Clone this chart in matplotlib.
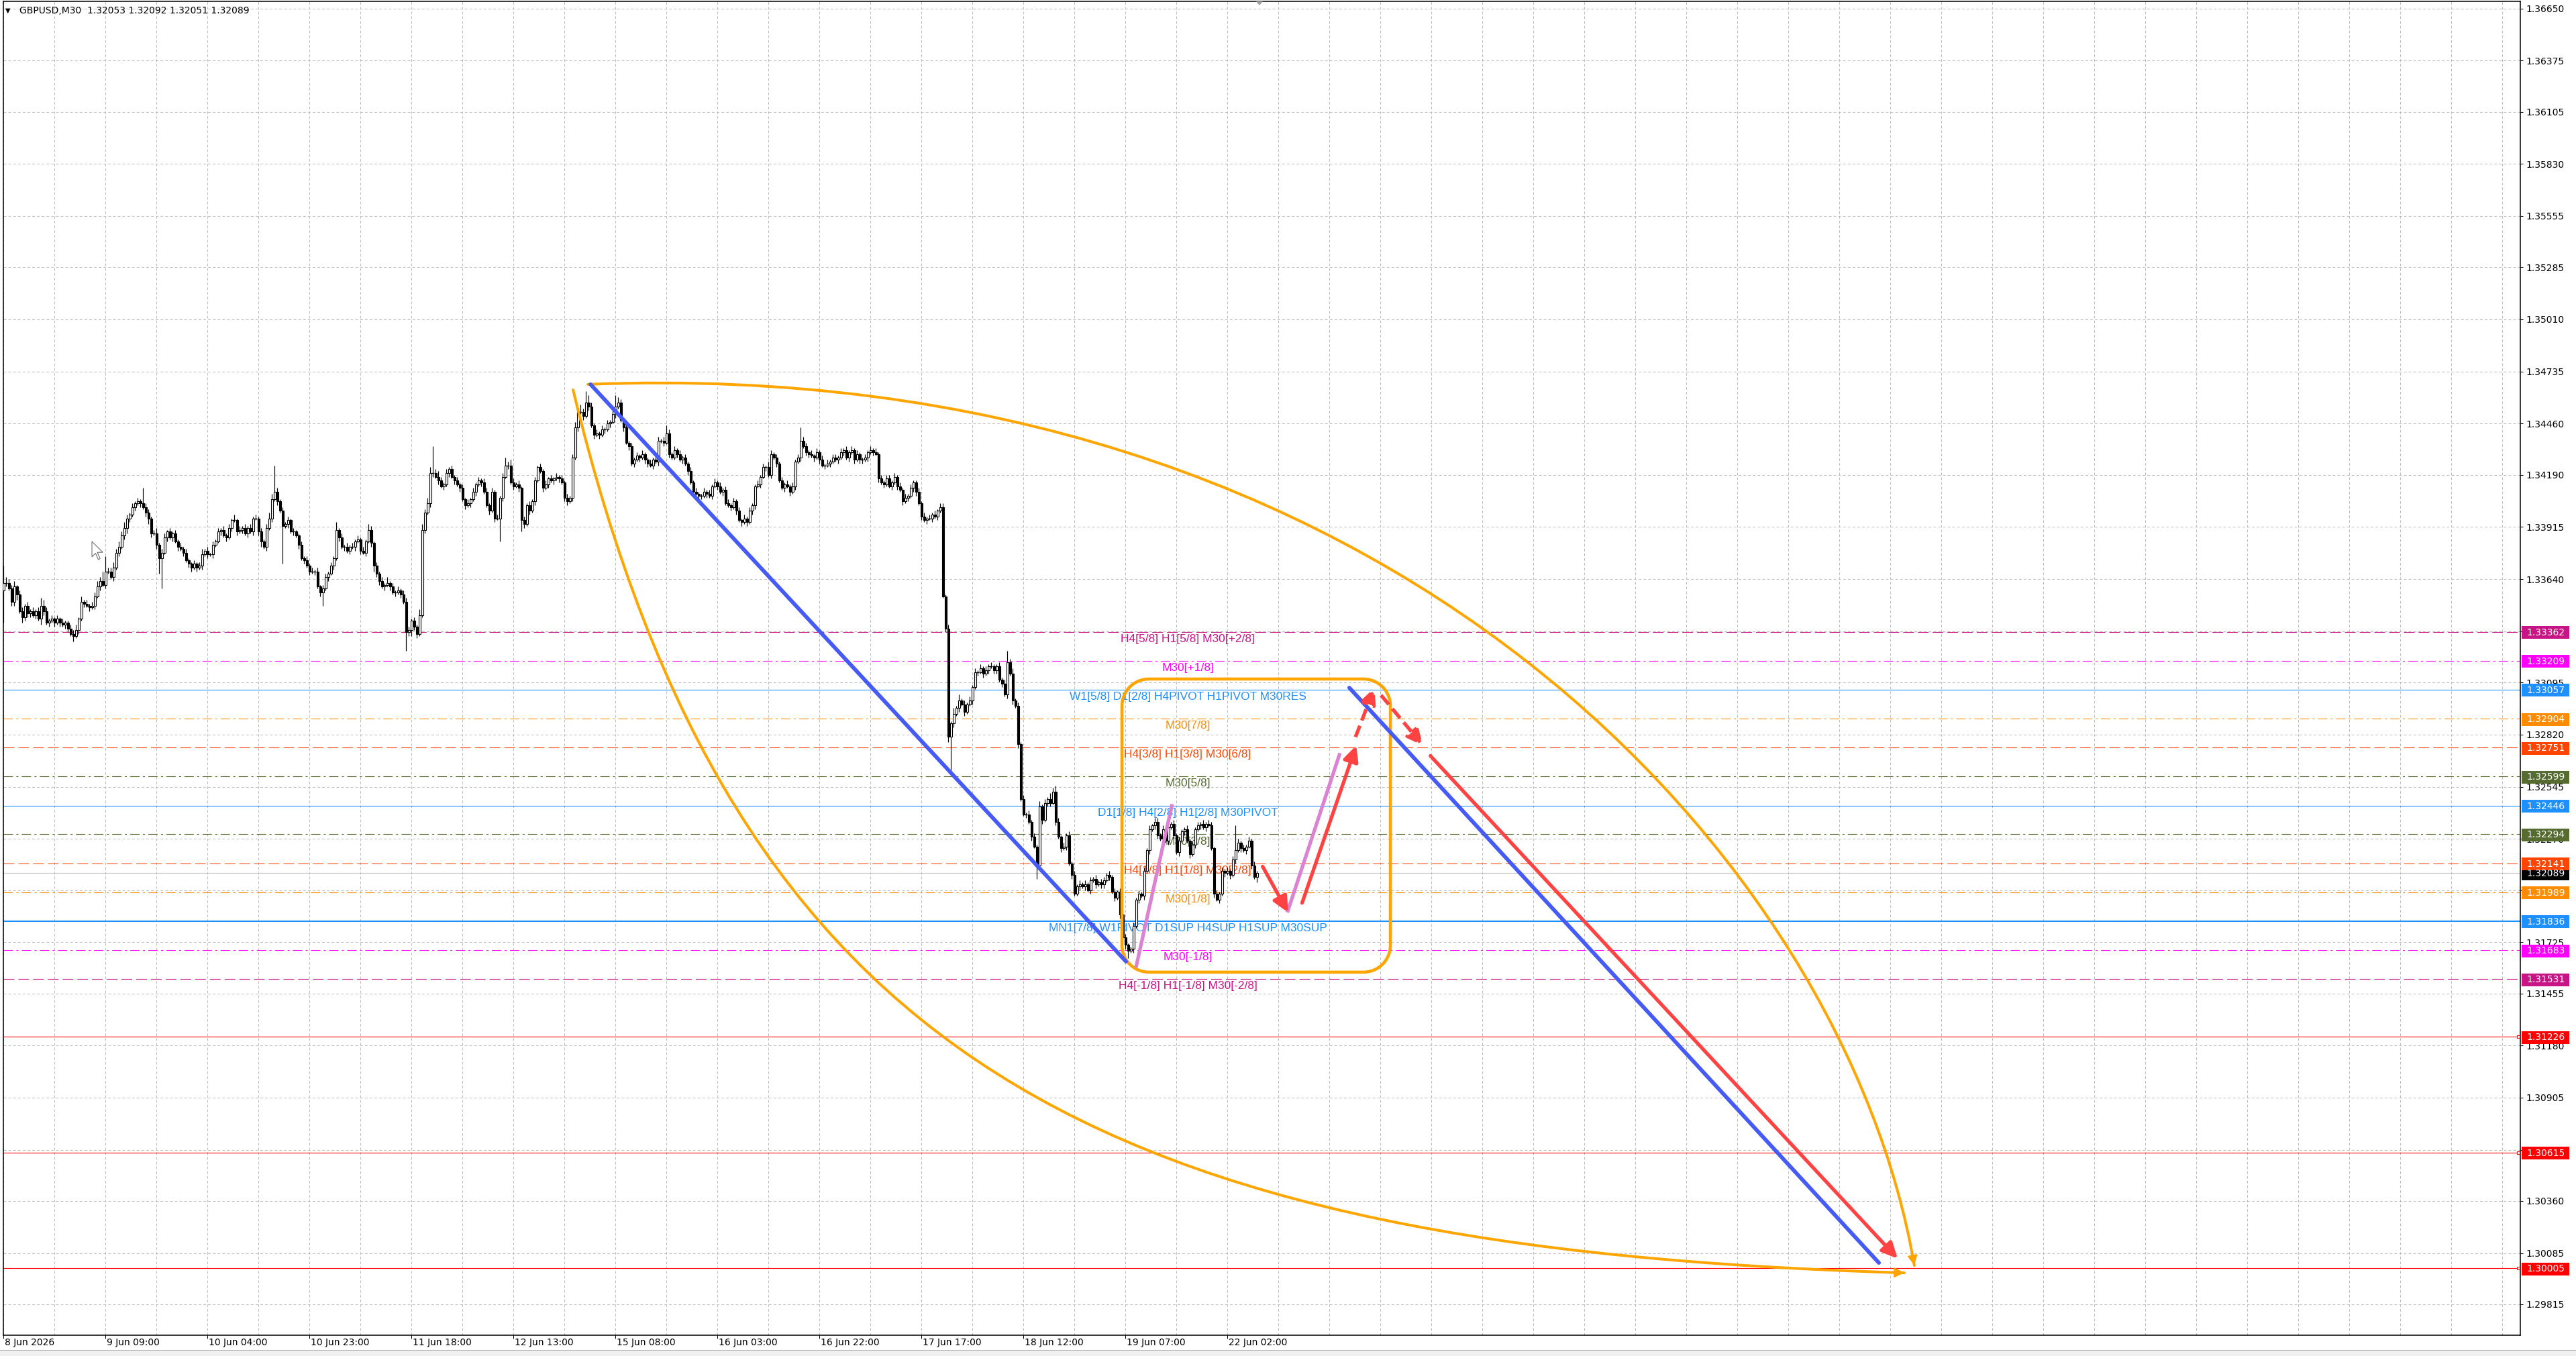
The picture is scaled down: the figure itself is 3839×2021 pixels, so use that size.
import numpy as np
import matplotlib
matplotlib.use("Agg")
import matplotlib.pyplot as plt
from matplotlib.path import Path
from matplotlib.patches import PathPatch, Rectangle, Polygon
from matplotlib.transforms import IdentityTransform

plt.rcParams['lines.scale_dashes'] = False
plt.rcParams['font.family'] = ['DejaVu Sans']

# ---------------- data ----------------
TITLE = "GBPUSD,M30  1.32053 1.32092 1.32051 1.32089"
PIP = 0.0001
BASE_PRICE = 1.30000
FIRST_OPEN_PIPS = 358

CLOSE_PIPS = [
    362, 362, 359, 352, 360, 356, 347, 344, 350, 346,
    347, 345, 347, 343, 350, 347, 341, 342, 343, 341,
    343, 341, 340, 341, 338, 335, 334, 337, 343, 352,
    351, 350, 349, 350, 355, 360, 363, 361, 368, 368,
    365, 370, 378, 381, 387, 391, 396, 398, 402, 404,
    405, 404, 402, 399, 396, 388, 388, 382, 375, 378,
    386, 389, 386, 388, 384, 381, 380, 378, 374, 372,
    370, 372, 370, 371, 377, 379, 377, 377, 382, 384,
    389, 390, 387, 386, 391, 395, 395, 389, 390, 391,
    388, 391, 389, 396, 396, 389, 384, 381, 391, 396,
    406, 410, 405, 400, 392, 393, 395, 389, 389, 387,
    382, 375, 374, 371, 368, 368, 368, 360, 357, 359,
    365, 367, 371, 375, 390, 386, 381, 381, 379, 381,
    381, 384, 385, 379, 378, 384, 390, 383, 371, 367,
    363, 360, 361, 362, 360, 357, 357, 358, 356, 352,
    336, 337, 342, 339, 335, 345, 390, 399, 404, 420,
    420, 418, 416, 413, 414, 420, 422, 418, 416, 414,
    412, 406, 403, 404, 406, 410, 414, 416, 415, 410,
    403, 400, 410, 396, 396, 407, 418, 424, 424, 415,
    413, 414, 412, 395, 393, 403, 400, 405, 416, 423,
    421, 412, 414, 417, 416, 417, 418, 417, 415, 407,
    405, 407, 428, 444, 452, 452, 450, 457, 455, 445,
    440, 441, 440, 443, 443, 446, 447, 451, 455, 457,
    448, 444, 436, 434, 425, 427, 429, 428, 430, 427,
    425, 424, 427, 426, 437, 437, 436, 441, 430, 428,
    432, 430, 427, 428, 425, 421, 415, 410, 409, 408,
    408, 410, 409, 408, 413, 415, 413, 410, 411, 404,
    403, 402, 405, 400, 395, 394, 396, 394, 400, 403,
    413, 414, 418, 423, 423, 419, 430, 428, 425, 416,
    412, 414, 413, 410, 413, 426, 428, 437, 434, 431,
    430, 429, 428, 431, 427, 424, 424, 425, 426, 428,
    427, 428, 431, 432, 428, 431, 432, 427, 430, 427,
    427, 428, 431, 432, 431, 430, 417, 415, 414, 417,
    413, 415, 418, 413, 411, 405, 407, 408, 412, 415,
    410, 404, 397, 395, 396, 396, 398, 397, 400, 402,
    355, 338, 281, 288, 293, 296, 300, 298, 294, 298,
    300, 307, 315, 315, 317, 314, 316, 318, 318, 316,
    318, 311, 309, 303, 320, 314, 300, 297, 277, 248,
    240, 240, 236, 228, 223, 213, 244, 237, 246, 248,
    246, 252, 236, 228, 222, 223, 229, 214, 208, 198,
    202, 203, 202, 203, 200, 205, 206, 203, 204, 203,
    205, 208, 207, 199, 196, 199, 187, 175, 171, 168,
    169, 181, 195, 198, 197, 210, 221, 232, 234, 236,
    229, 227, 232, 226, 233, 235, 229, 220, 226, 231,
    232, 226, 219, 224, 232, 234, 235, 233, 235, 234,
    222, 198, 195, 198, 210, 209, 210, 208, 216, 221,
    225, 222, 221, 223, 226, 213, 207, 209,
]

UP_WICK = ("2322312212 1212412121 2121122313 1212232562 2323232121 "
           "2142212312 2121212121 1212312121 2121213121 2121212123 "
           "3621212121 1212121212 2121412121 2121213212 1213121212 "
           "2212133233 4232121212 1212121212 2121212423 2121212121 "
           "2121212121 2123242642 1212121253 2121212121 1212212121 "
           "2121212121 1212121212 2121212121 1212132121 2121212322 "
           "1212121212 2121212121 1212121212 2121212121 1212121212 "
           "2121313121 2121212121 1212323121 2121213121 3232121212 "
           "1212121212 2121212121 1212121212 2121212121 1212121212 "
           "2121212123 21212121")
DN_WICK = ("3212231322 2121321212 1212213121 2121212121 1212123212 "
           "1212321283 1212121212 2121212121 1212121212 1212123121 "
           "2121612121 2121212121 1212121212 1212121232 2121212121 "
           "3232211212 2121212121 2121212121 1212122121 2121212121 "
           "1212121212 2121212121 2121212121 1212121212 2121212121 "
           "1212121212 2121212121 1212121212 2121212121 1212121212 "
           "2121212121 1212121212 2121212121 1212121212 2121212121 "
           "1239212121 1212121212 2121212121 1212121212 2121212121 "
           "1212121212 2121212121 1212121212 2121212121 2121212121 "
           "1212121212 12121213")
HIGH_SPIKES = {0: 371, 15: 353, 38: 376, 52: 412, 101: 424, 124: 393, 136: 392,
               160: 434, 188: 426, 217: 462, 228: 461, 247: 445, 297: 444,
               349: 404, 374: 326, 391: 254, 459: 234}
LOW_SPIKES = {0: 341, 26: 331, 59: 359, 104: 372, 119: 350, 150: 326, 185: 384,
              193: 389, 353: 263, 385: 206, 419: 164, 467: 205}

TIME_LABELS = ["8 Jun 2026", "9 Jun 09:00", "10 Jun 04:00", "10 Jun 23:00",
               "11 Jun 18:00", "12 Jun 13:00", "15 Jun 08:00", "16 Jun 03:00",
               "16 Jun 22:00", "17 Jun 17:00", "18 Jun 12:00", "19 Jun 07:00",
               "22 Jun 02:00"]
TIME_LABEL_BARS = [0, 38, 76, 114, 152, 190, 228, 266, 304, 342, 380, 418, 456]
GRID_STEP_BARS = 19
X_RANGE = (-0.075, 937.68)
Y_RANGE = (1.296522, 1.366872)

PRICE_TICKS = [1.36650, 1.36375, 1.36105, 1.35830, 1.35555, 1.35285, 1.35010,
               1.34735, 1.34460, 1.34190, 1.33915, 1.33640, 1.33365, 1.33095,
               1.32820, 1.32545, 1.32270, 1.32000, 1.31725, 1.31455, 1.31180,
               1.30905, 1.30630, 1.30360, 1.30085, 1.29815]

LEVEL_PRICES = [1.33362, 1.33209, 1.33057, 1.32904, 1.32751, 1.32599, 1.32446,
                1.32294, 1.32141, 1.31989, 1.31836, 1.31683, 1.31531]
LEVEL_COLORS = ['#C71585', '#FF00FF', '#1E90FF', '#FF8C00', '#FF4500', '#556B2F',
                '#1E90FF', '#556B2F', '#FF4500', '#FF8C00', '#1E90FF', '#FF00FF',
                '#C71585']
LEVEL_STYLES = ['dash', 'dashdot', 'solid', 'dashdot', 'dash', 'dashdot', 'solid',
                'dashdot', 'dash', 'dashdot', 'solid2', 'dashdot', 'dash']
LEVEL_TEXTS = ["H4[5/8] H1[5/8] M30[+2/8]",
               "M30[+1/8]",
               "W1[5/8] D1[2/8] H4PIVOT H1PIVOT M30RES",
               "M30[7/8]",
               "H4[3/8] H1[3/8] M30[6/8]",
               "M30[5/8]",
               "D1[1/8] H4[2/8] H1[2/8] M30PIVOT",
               "M30[3/8]",
               "H4[1/8] H1[1/8] M30[2/8]",
               "M30[1/8]",
               "MN1[7/8] W1PIVOT D1SUP H4SUP H1SUP M30SUP",
               "M30[-1/8]",
               "H4[-1/8] H1[-1/8] M30[-2/8]"]
LEVEL_TEXT_BAR = 441.2
TARGET_PRICES = [1.31226, 1.30615, 1.30005]
BID_PRICE = 1.32089

# drawn objects (bar index, price)
BLUE_LINES = [((218.7, 1.34667), (418.2, 1.31623)),
              ((501.4, 1.33067), (698.7, 1.30034))]
PINK_LINES = [((421.9, 1.31591), (435.4, 1.32453)),
              ((478.3, 1.31882), (497.9, 1.32722))]
RED_ARROWS = [((469.1, 1.32124), (478.6, 1.31882), False),
              ((483.8, 1.31932), (504.0, 1.32763), False),
              ((503.7, 1.32807), (510.7, 1.33066), True),
              ((513.2, 1.33028), (528.8, 1.32763), True),
              ((531.6, 1.32708), (705.7, 1.30056), False)]
BOX_BARS = (416.7, 516.7)
BOX_PRICES = (1.31567, 1.33113)
BOX_RADIUS = (10.0, 0.001415)
ARC_LOW = [(212.2, 1.34638), (272.2, 1.31100), (408.2, 1.30109), (708.2, 1.29981)]
ARC_HIGH = [(217.7, 1.34667), (517.7, 1.34836), (686.4, 1.32143), (711.9, 1.30020)]

# ---------------- figure ----------------
W, H = 3839, 2021
fig = plt.figure(figsize=(W / 100, H / 100), dpi=100)
fig.patch.set_facecolor('white')
AXL, AXR, AXT, AXB = 5, 3756, 2, 1990
ax = fig.add_axes([AXL / W, (H - AXB) / H, (AXR - AXL) / W, (AXB - AXT) / H])
ax.set_xlim(*X_RANGE)
ax.set_ylim(*Y_RANGE)
ax.set_facecolor('white')
for s in ax.spines.values():
    s.set_color('black')
    s.set_linewidth(1.1)

GRID_C = '#C0C0C0'
ax.set_axisbelow(True)
ax.set_yticks(PRICE_TICKS)
ax.set_yticklabels([f"{v:.5f}" for v in PRICE_TICKS])
ax.yaxis.set_ticks_position('right')
ax.tick_params(axis='y', which='major', length=2.9, width=0.75, pad=3.4,
               labelsize=10, colors='black')
ax.set_xticks(TIME_LABEL_BARS)
ax.set_xticklabels([''] * len(TIME_LABEL_BARS))
ax.set_xticks(np.arange(0, X_RANGE[1], GRID_STEP_BARS), minor=True)
ax.tick_params(axis='x', which='major', length=3.6, width=0.75)
ax.tick_params(axis='x', which='minor', length=0)
ax.grid(axis='y', which='major', color=GRID_C, lw=0.75, linestyle=(0, (2.9, 2.2)))
ax.grid(axis='x', which='both', color=GRID_C, lw=0.75, linestyle=(0, (2.9, 2.2)))

xform_x = ax.get_xaxis_transform()
for b, lab in zip(TIME_LABEL_BARS, TIME_LABELS):
    ax.text(b + 0.5, -(2001 - AXB) / (AXB - AXT), lab, transform=xform_x,
            ha='left', va='center', fontsize=10, color='black', clip_on=False)

# ---------------- levels ----------------
DASH = (0, (11.5, 4.3))
DASHDOT = (0, (10, 3.6, 2.2, 3.6))
for p, c, st, txt in zip(LEVEL_PRICES, LEVEL_COLORS, LEVEL_STYLES, LEVEL_TEXTS):
    if st == 'dash':
        ls, lw = DASH, 0.8
    elif st == 'dashdot':
        ls, lw = DASHDOT, 0.8
    elif st == 'solid2':
        ls, lw = '-', 1.5
    else:
        ls, lw = '-', 0.8
    ax.axhline(p, color=c, lw=lw, linestyle=ls, zorder=2)
    ax.annotate(txt, xy=(LEVEL_TEXT_BAR, p), xytext=(0, -2.2), textcoords='offset points',
                ha='center', va='top', color=c, fontsize=12.5,
                family=['Liberation Sans', 'DejaVu Sans'], zorder=3.5)
for p in TARGET_PRICES:
    ax.axhline(p, color='#FF0000', lw=0.8, zorder=2)
    ax.plot([X_RANGE[1] - 0.8], [p], marker='s', ms=3.2, mfc='white', mec='#FF0000',
            mew=0.8, zorder=3, clip_on=False)
ax.axhline(BID_PRICE, color='#C0C0C0', lw=0.8, zorder=2)

# ---------------- candles ----------------
n = len(CLOSE_PIPS)
idx = np.arange(n)
close = BASE_PRICE + np.array(CLOSE_PIPS, float) * PIP
opn = np.r_[BASE_PRICE + FIRST_OPEN_PIPS * PIP, close[:-1]]


def digits(s, n):
    d = [int(ch) for ch in ''.join(s.split())]
    d = d + [1] * max(0, n - len(d))
    return np.array(d[:n], float)


high = np.maximum(opn, close) + digits(UP_WICK, n) * PIP
low = np.minimum(opn, close) - digits(DN_WICK, n) * PIP
for k, v in HIGH_SPIKES.items():
    high[k] = max(high[k], BASE_PRICE + v * PIP)
for k, v in LOW_SPIKES.items():
    low[k] = min(low[k], BASE_PRICE + v * PIP)

ax.vlines(idx, low, high, colors='black', lw=0.85, zorder=4)
bull = close > opn
bear = close < opn
doji = ~(bull | bear)
ax.bar(idx[bull], (close - opn)[bull], bottom=opn[bull], width=0.75,
       facecolor='white', edgecolor='black', lw=0.8, zorder=4.5)
ax.bar(idx[bear], (opn - close)[bear], bottom=close[bear], width=0.75,
       facecolor='black', edgecolor='black', lw=0.8, zorder=4.5)
ax.hlines(close[doji], idx[doji] - 0.45, idx[doji] + 0.45, colors='black', lw=1.0, zorder=4.5)

# ---------------- drawings ----------------
ORANGE = '#FFA500'
BLUE = '#465AF5'
PINK = '#DC82D2'
RED = '#FF4343'


def rounded_rect(x0, x1, y0, y1, rx, ry, m=16):
    pts = []
    corners = [(x1 - rx, y1 - ry, 0), (x0 + rx, y1 - ry, 90),
               (x0 + rx, y0 + ry, 180), (x1 - rx, y0 + ry, 270)]
    for cx, cy, a0 in corners:
        for a in np.linspace(a0, a0 + 90, m):
            t = np.radians(a)
            pts.append((cx + rx * np.cos(t), cy + ry * np.sin(t)))
    return pts


ax.add_patch(Polygon(rounded_rect(BOX_BARS[0], BOX_BARS[1], BOX_PRICES[0], BOX_PRICES[1],
                                  BOX_RADIUS[0], BOX_RADIUS[1]),
                     closed=True, fill=False, ec=ORANGE, lw=3.3, joinstyle='round', zorder=6))


def bez(P, t):
    P = np.array(P)
    return ((1 - t) ** 3) * P[0] + 3 * ((1 - t) ** 2) * t * P[1] + 3 * (1 - t) * t * t * P[2] + t ** 3 * P[3]


for arc in (ARC_LOW, ARC_HIGH):
    path = Path(arc, [Path.MOVETO, Path.CURVE4, Path.CURVE4, Path.CURVE4])
    ax.add_patch(PathPatch(path, fill=False, ec=ORANGE, lw=2.9, capstyle='round', zorder=6))
    pre = bez(arc, 0.985)
    ax.annotate('', xy=arc[3], xytext=tuple(pre),
                arrowprops=dict(arrowstyle='-|>,head_length=0.5,head_width=0.25',
                                mutation_scale=18, color=ORANGE, lw=1.5,
                                shrinkA=0, shrinkB=0), zorder=6)

for p0, p1 in BLUE_LINES:
    ax.plot([p0[0], p1[0]], [p0[1], p1[1]], color=BLUE, lw=4.2,
            solid_capstyle='round', zorder=7)
for p0, p1 in PINK_LINES:
    ax.plot([p0[0], p1[0]], [p0[1], p1[1]], color=PINK, lw=3.8,
            solid_capstyle='butt', zorder=7)
for p0, p1, dashed in RED_ARROWS:
    ax.annotate('', xy=p1, xytext=p0,
                arrowprops=dict(arrowstyle='-|>,head_length=0.5,head_width=0.24',
                                mutation_scale=28, color=RED, lw=3.8,
                                linestyle=(0, (13, 6)) if dashed else '-',
                                capstyle='butt' if dashed else 'round',
                                shrinkA=0, shrinkB=0), zorder=8)

# ---------------- right-side price boxes ----------------
fig.canvas.draw()
BOXES = [(BID_PRICE, '#000000')] + list(zip(LEVEL_PRICES, LEVEL_COLORS)) + \
        [(p, '#FF0000') for p in TARGET_PRICES]
for p, c in BOXES:
    yd = ax.transData.transform((0, p))[1] - 1
    fig.add_artist(Rectangle((3758, yd - 9.5), 71, 19, transform=IdentityTransform(),
                             facecolor=c, edgecolor='none', zorder=5))
    fig.text(3765, yd, f"{p:.5f}", transform=IdentityTransform(), color='white',
             fontsize=10, ha='left', va='center', zorder=6)

# ---------------- chrome ----------------
fig.text(8, H - 16, '\u25BC', transform=IdentityTransform(), fontsize=7,
         ha='left', va='center', color='black')
fig.text(29, H - 16, TITLE, transform=IdentityTransform(), fontsize=10,
         ha='left', va='center', color='black')
fig.add_artist(Polygon([(1872, H - 2), (1882, H - 2), (1877, H - 8)], closed=True,
                       transform=IdentityTransform(), facecolor='#A0A0A0',
                       edgecolor='none', zorder=5))
fig.add_artist(Rectangle((0, 0), W, 8, transform=IdentityTransform(),
                         facecolor='#F0F0F0', edgecolor='none', zorder=1))
fig.add_artist(Rectangle((0, 8), W, 1, transform=IdentityTransform(),
                         facecolor='#B0B0B0', edgecolor='none', zorder=1))
cur = np.array([(0, 0), (0, 17), (4, 13), (7, 20), (9, 19), (6, 12), (12, 12)]) * 1.35
fig.add_artist(Polygon([(137 + dx, H - 807 - dy) for dx, dy in cur], closed=True,
                       transform=IdentityTransform(), facecolor='white',
                       edgecolor='#707070', lw=0.8, zorder=5))

fig.savefig('out.png', dpi=100, facecolor='white')
